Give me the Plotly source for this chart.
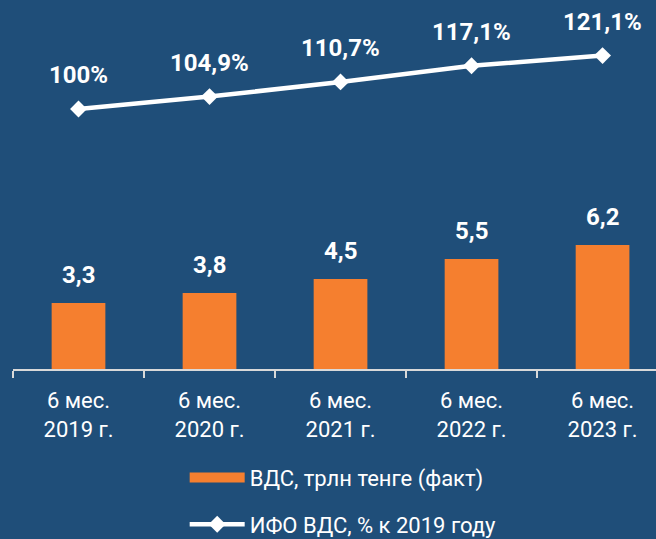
import plotly.graph_objects as go

categories = ["6 мес.<br>2019 г.", "6 мес.<br>2020 г.", "6 мес.<br>2021 г.", "6 мес.<br>2022 г.", "6 мес.<br>2023 г."]
gva_trln = [3.3, 3.8, 4.5, 5.5, 6.2]
gva_index = [100.0, 104.9, 110.7, 117.1, 121.1]
gva_index_labels = ["100%", "104,9%", "110,7%", "117,1%", "121,1%"]
bar_name = "ВДС, трлн тенге (факт)"
line_name = "ИФО ВДС, % к 2019 году"

BG = "#1F4E79"
ORANGE = "#F57F2F"
AXIS = "#D9D9D9"
FONT = "Roboto"

fig = go.Figure()
fig.add_trace(go.Bar(
    x=categories, y=gva_trln, name=bar_name, marker=dict(color=ORANGE, line=dict(width=0)),
    width=0.41, yaxis="y", legendgroup="a", showlegend=False, hoverinfo="skip",
))
# legend-only entry for the bars (wide orange swatch like the original)
fig.add_trace(go.Scatter(
    x=[None], y=[None], name=bar_name, mode="lines",
    line=dict(color=ORANGE, width=14), legendgroup="a", showlegend=True,
    hoverinfo="skip",
))
fig.add_trace(go.Scatter(
    x=categories, y=gva_index, name=line_name, mode="lines+markers",
    line=dict(color="white", width=4.5),
    marker=dict(symbol="diamond", size=13, color="white"),
    yaxis="y2", legendgroup="b", hoverinfo="skip",
))

annotations = []
for c, v in zip(categories, gva_trln):
    annotations.append(dict(
        x=c, y=v, xref="x", yref="y", text="<b>" + f"{v:.1f}".replace(".", ",") + "</b>",
        showarrow=False, yanchor="middle", yshift=28,
        font=dict(family=FONT, size=24, color="white"),
    ))
for c, v, t in zip(categories, gva_index, gva_index_labels):
    annotations.append(dict(
        x=c, y=v, xref="x", yref="y2", text="<b>" + t + "</b>",
        showarrow=False, yanchor="middle", yshift=34,
        font=dict(family=FONT, size=24, color="white"),
    ))

fig.update_layout(
    width=656, height=539,
    margin=dict(l=13, r=0, t=0, b=170, autoexpand=False),
    paper_bgcolor=BG, plot_bgcolor=BG,
    font=dict(family=FONT, color="white"),
    showlegend=True,
    legend=dict(
        orientation="v", x=0.267, xanchor="left", y=-0.238, yanchor="top",
        font=dict(family=FONT, size=22, color="white"),
        bgcolor="rgba(0,0,0,0)", traceorder="grouped", tracegroupgap=15,
        itemwidth=55,
    ),
    xaxis=dict(
        type="category", range=[-0.5, 4.408], tickson="boundaries",
        ticks="outside", ticklen=7, tickwidth=2, tickcolor=AXIS,
        showline=True, linecolor=AXIS, linewidth=2, showgrid=False, zeroline=False,
        tickfont=dict(family=FONT, size=22, color="white"),
        ticklabelstandoff=11,
        fixedrange=True,
    ),
    yaxis=dict(range=[0, 18.45], visible=False, showgrid=False, zeroline=False),
    yaxis2=dict(range=[-2.77, 143.08], overlaying="y", visible=False, showgrid=False, zeroline=False),
    annotations=annotations,
    bargap=0.59,
)

fig.write_html(
    "out.html",
    config={"displayModeBar": False},
    post_script="document.body.style.margin='0';document.body.style.overflow='hidden';",
)
